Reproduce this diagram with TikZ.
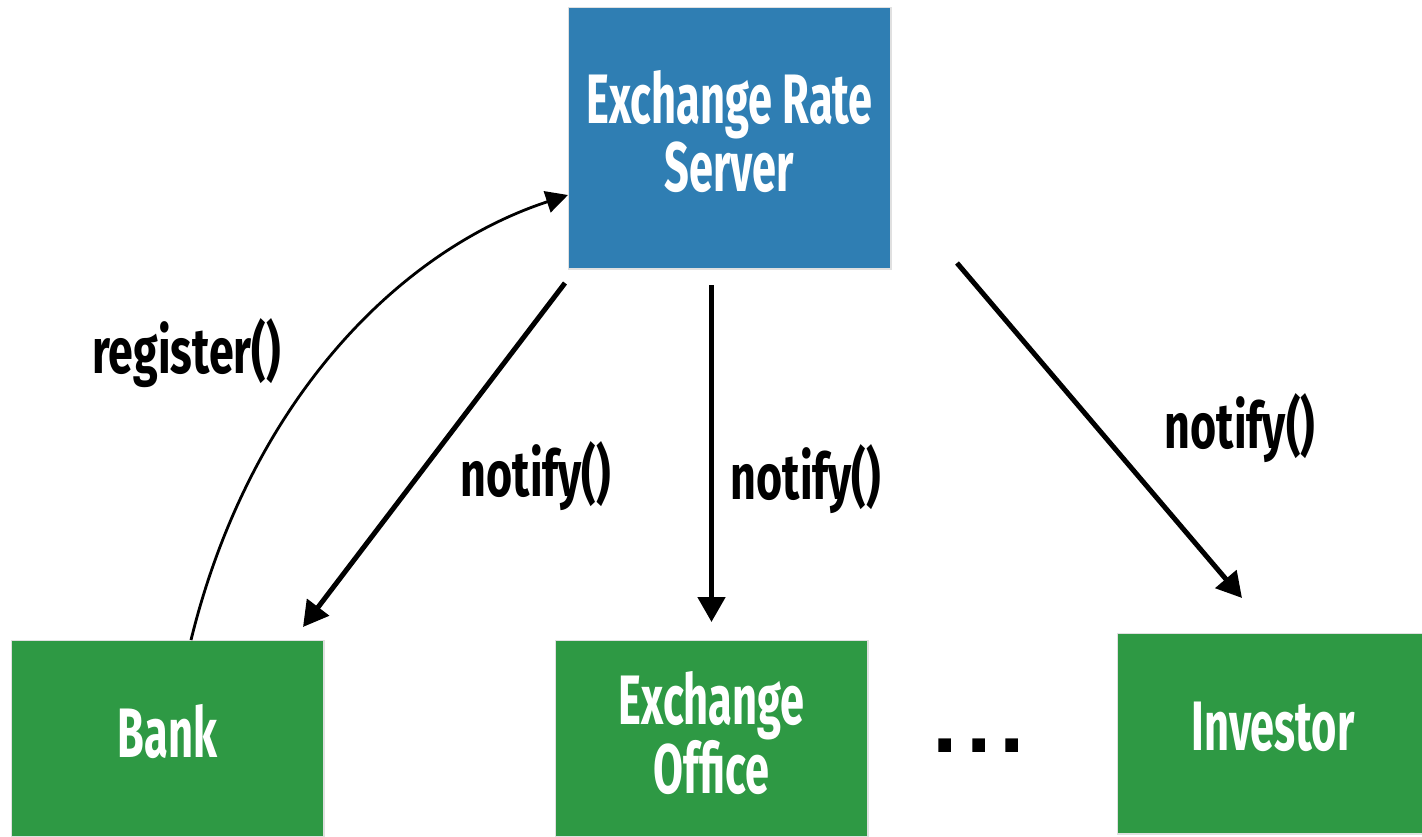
\documentclass[tikz,border=0pt]{standalone}
\usepackage{fontspec}
\setmainfont{Fira Sans}
\newfontfamily\diafont[FakeStretch=0.62]{Fira Sans}
\newfontfamily\lblfont[FakeStretch=0.7]{Fira Sans}
\newfontfamily\dotfont{DejaVu Sans}
\usetikzlibrary{arrows.meta,calc}
\definecolor{srvblue}{HTML}{2F7EB3}
\definecolor{boxgreen}{HTML}{2E9944}
\begin{document}
\begin{tikzpicture}[x=1pt,y=-1pt,
  box/.style={draw=none, inner sep=0pt, outer sep=0pt, text=white,
    font=\diafont\bfseries\fontsize{70}{68}\selectfont, align=center,
    preaction={draw=black!12, line width=3pt}},
  single/.style={text height=48pt, text depth=#1},
  lbl/.style={font=\lblfont\bfseries\fontsize{64}{66}\selectfont, inner sep=0pt, anchor=base},
  arr/.style={line width=5pt, -{Triangle[length=25pt,width=27pt]}},
  reg/.style={line width=2.8pt, -{Triangle[length=22pt,width=22pt]}}]
\useasboundingbox (0,0) rectangle (1422,836);
\clip (0,0) rectangle (1422,836);

\node[box, fill=srvblue, minimum width=321pt, minimum height=260pt] (srv) at (729.5,138) {Exchange Rate\\Server\rule[-14pt]{0pt}{0pt}};
\node[box, fill=boxgreen, minimum width=311pt, minimum height=195pt, single=11pt] (bank) at (167.5,738.5) {Bank};
\node[box, fill=boxgreen, minimum width=311pt, minimum height=195pt] (off) at (711.5,738.5) {Exchange\\Office\rule[-12pt]{0pt}{0pt}};
\node[box, fill=boxgreen, minimum width=310pt, minimum height=199pt, single=15pt] (inv) at (1273,733.5) {Investor};

\node[font=\dotfont\bfseries\fontsize{72}{72}\selectfont, inner sep=0pt, anchor=base] (dots) at (979,752) {.\hspace{6pt}.\hspace{6pt}.};

\draw[reg] ($(bank.north)+(23.5,-1)$) .. controls (250,400) and (400,250) .. ($(srv.south west)+(-1,-73)$);
\draw[arr] ($(srv.south west)+(-4,15)$) -- ($(bank.north east)+(-20,-14)$);
\draw[arr] ($(srv.south -| off.north)+(0,17)$) -- ($(off.north)+(0,-19)$);
\draw[arr] ($(srv.south east)+(67,-5)$) -- ($(inv.north west)+(124,-36)$);

\node[lbl] (lreg) at (186.5,373) {register()};
\node[lbl] (ln1) at (536,496) {notify()};
\node[lbl] (ln2) at (806,499) {notify()};
\node[lbl] (ln3) at (1240,448) {notify()};
\end{tikzpicture}
\end{document}
